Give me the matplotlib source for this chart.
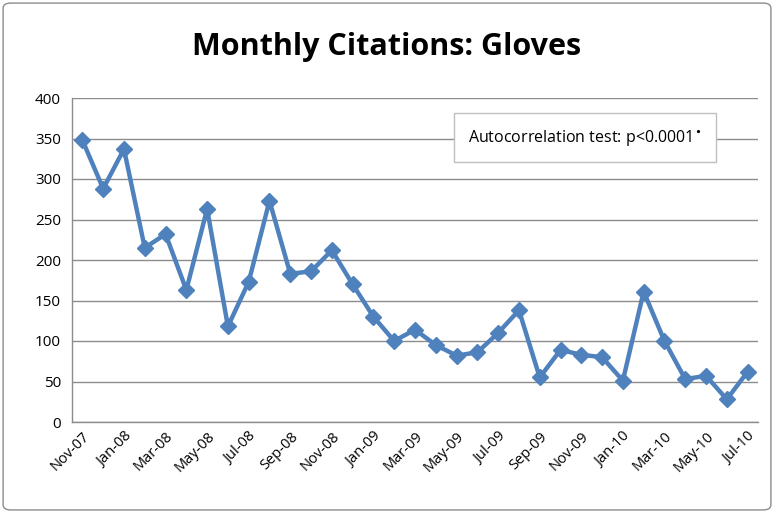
import numpy as np
import matplotlib
matplotlib.use("Agg")
import matplotlib.pyplot as plt
from matplotlib.patches import FancyBboxPatch

months = ["Nov-07", "Dec-07", "Jan-08", "Feb-08", "Mar-08", "Apr-08", "May-08", "Jun-08",
          "Jul-08", "Aug-08", "Sep-08", "Oct-08", "Nov-08", "Dec-08", "Jan-09", "Feb-09",
          "Mar-09", "Apr-09", "May-09", "Jun-09", "Jul-09", "Aug-09", "Sep-09", "Oct-09",
          "Nov-09", "Dec-09", "Jan-10", "Feb-10", "Mar-10", "Apr-10", "May-10", "Jun-10",
          "Jul-10"]
citations = [348, 288, 337, 215, 232, 163, 263, 118, 173, 273, 183, 186, 212, 170, 130, 100,
             114, 95, 82, 86, 110, 138, 55, 89, 83, 80, 51, 161, 100, 53, 57, 28, 62]
y_ticks = [0, 50, 100, 150, 200, 250, 300, 350, 400]

plt.rcParams["font.family"] = ["Open Sans", "DejaVu Sans"]

fig = plt.figure(figsize=(7.74, 5.12), dpi=100)
ax = fig.add_axes([72 / 774, 1 - 422 / 512, 686 / 774, 324 / 512])

# outer chart border
fig.patches.append(FancyBboxPatch((0.004, 0.004), 0.992, 0.99, boxstyle="round,pad=0,rounding_size=0.01",
                                  transform=fig.transFigure, fill=False, edgecolor="#8c8c8c", linewidth=1))

x = np.arange(len(months))
ax.plot(x, citations, color="#4f81bd", linewidth=3.2, marker="D", markersize=8.5,
        markeredgecolor="#4f81bd", zorder=3)

ax.set_xlim(-0.5, len(months) - 0.5)
ax.set_ylim(0, 400)
ax.set_yticks(y_ticks)
ax.set_xticks(x[::2])
ax.set_xticklabels(months[::2], rotation=45, ha="right", rotation_mode="anchor", fontsize=10.5)
ax.tick_params(axis="y", labelsize=11, length=0, pad=8)
ax.tick_params(axis="x", length=0, pad=5)
ax.grid(axis="y", color="#8c8c8c", linewidth=1)
ax.set_axisbelow(True)
for s in ["top", "right"]:
    ax.spines[s].set_visible(False)
for s in ["left", "bottom"]:
    ax.spines[s].set_color("#8c8c8c")
    ax.spines[s].set_linewidth(1)

fig.text(0.5, 1 - 47 / 512, "Monthly Citations: Gloves", ha="center", va="center",
         fontsize=22, fontweight="bold")

ax.text(0.748, 0.877, "Autocorrelation test: p<0.0001$^{\\bullet}$", transform=ax.transAxes,
        ha="center", va="center", fontsize=11.5,
        bbox=dict(boxstyle="square,pad=0.9", facecolor="white", edgecolor="#bfbfbf", linewidth=1))

fig.savefig("out.png", dpi=100)
